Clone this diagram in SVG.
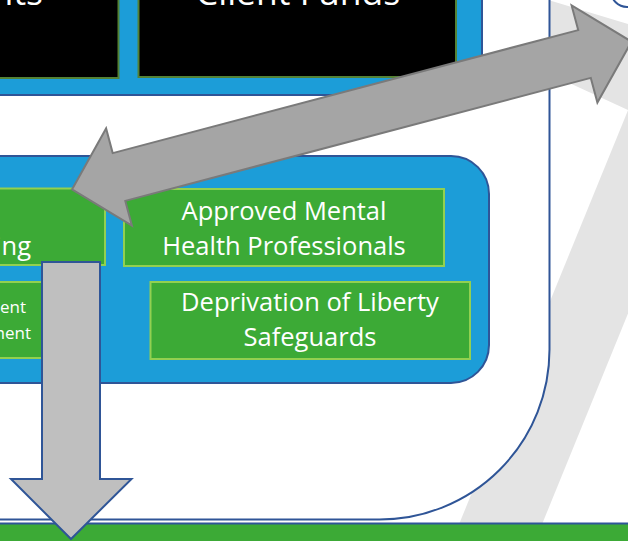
<svg xmlns="http://www.w3.org/2000/svg" width="628" height="541" viewBox="0 0 628 541">
  <defs>
    <style>
      .bg { fill: #E4E4E4; stroke: none; }
      .outline { fill: #FFFFFF; stroke: #2F5597; stroke-width: 2; }
      .panel { fill: #1C9DD8; stroke: #2F5597; stroke-width: 2; }
      .black { fill: #000000; stroke: #548235; stroke-width: 2; }
      .green { fill: #3CAA36; stroke: #92D050; stroke-width: 2; }
      .bar { fill: #3CAA36; stroke: #2F5597; stroke-width: 2; }
      .dbl { fill: #A5A5A5; stroke: #7A7A7A; stroke-width: 2; stroke-linejoin: miter; }
      .down { fill: #BFBFBF; stroke: #2F5597; stroke-width: 2; stroke-linejoin: miter; }
      .t { font-family: "Open Sans", "Noto Sans", sans-serif; fill: #FFFFFF; }
      .big { font-size: 35.5px; }
      .mid { font-size: 25.5px; }
      .small { font-size: 17px; }
    </style>
  </defs>

  <g id="background">
    <polygon class="bg" points="540,-2.5 660,33.5 660,124.7 540,69.6"/>
    <polygon class="bg" points="452.2,541 640.3,80 700,80 700,137 535.2,541"/>
  </g>

  <g id="outer-frame">
    <rect class="outline" x="-300" y="-300" width="849.5" height="819.5" rx="170" ry="170"/>
  </g>

  <g id="top-right-frame">
    <rect class="outline" x="611" y="-100" width="100" height="107" rx="16" ry="16"/>
  </g>

  <g id="top-panel">
    <rect class="panel" x="-50" y="-100" width="532" height="195"/>
  </g>

  <g id="node-its">
    <rect class="black" x="-50" y="-100" width="168.5" height="178"/>
    <text class="t big" x="43" y="5" text-anchor="end">its</text>
  </g>

  <g id="node-client-funds">
    <rect class="black" x="138.5" y="-100" width="317.5" height="177"/>
    <text class="t big" x="298" y="5" text-anchor="middle">Client Funds</text>
  </g>

  <g id="middle-panel">
    <rect class="panel" x="-60" y="156" width="549" height="227" rx="38" ry="38"/>
  </g>

  <g id="node-ing">
    <rect class="green" x="-60" y="188.5" width="165" height="76.5"/>
    <text class="t mid" x="31" y="255" text-anchor="end">ing</text>
  </g>

  <g id="node-amhp">
    <rect class="green" x="124" y="189" width="320" height="77"/>
    <text class="t mid" x="284" y="220" text-anchor="middle">Approved Mental</text>
    <text class="t mid" x="284" y="255" text-anchor="middle">Health Professionals</text>
  </g>

  <g id="node-ment">
    <rect class="green" x="-60" y="282" width="130" height="76"/>
    <text class="t small" x="26" y="313" text-anchor="end">ent</text>
    <text class="t small" x="31" y="339" text-anchor="end">ment</text>
  </g>

  <g id="node-dols">
    <rect class="green" x="150.5" y="282" width="319.5" height="77"/>
    <text class="t mid" x="310" y="311" text-anchor="middle">Deprivation of Liberty</text>
    <text class="t mid" x="310" y="346" text-anchor="middle">Safeguards</text>
  </g>

  <g id="bottom-bar">
    <rect class="bar" x="-10" y="523.5" width="650" height="40"/>
  </g>

  <g id="connectors">
    <polygon class="dbl" points="72,189.4 106.1,128.4 112.7,153.1 578.2,30.1 571.6,5.4 631.5,41.6 597.4,102.6 590.8,77.9 125.3,200.9 131.9,225.6"/>
    <polygon class="down" points="42,262 100,262 100,479 131.5,479 71,539 11,479 42,479"/>
  </g>
</svg>
